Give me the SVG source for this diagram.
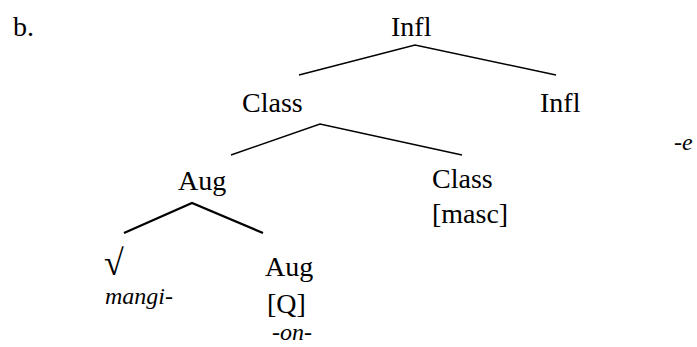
<svg xmlns="http://www.w3.org/2000/svg" width="697" height="347" viewBox="0 0 697 347" font-family="'Liberation Serif', 'DejaVu Serif', serif">
<style>
text{font-family:'Liberation Serif','DejaVu Serif',serif;font-size:28px;fill:#000}
.it{font-style:italic;font-size:24px}
.rt{font-size:36px}
.e{stroke:#000;stroke-width:1.5;fill:none}
.b{stroke-width:2.2}
</style>
<rect width="697" height="347" fill="#fff"/>
<g id="connectors">
<polyline class="e" points="299,75 415,45 556,75"/>
<polyline class="e" points="231,155 320,124 462,155"/>
<polyline class="e b" points="124,233 192,203 263,233"/>
</g>
<g id="label-b"><text x="13" y="36">b.</text></g>
<g id="infl-top"><text x="391" y="36">Infl</text></g>
<g id="class-mid"><text x="242" y="112">Class</text></g>
<g id="infl-mid"><text x="540" y="112">Infl</text><text class="it" x="674" y="150">-e</text></g>
<g id="aug-mid"><text x="178" y="190">Aug</text></g>
<g id="class-low"><text x="432" y="188">Class</text><text x="432" y="223">[masc]</text></g>
<g id="root"><text class="rt" x="104" y="275">√</text><text class="it" x="105" y="304">mangi-</text></g>
<g id="aug-low"><text x="265" y="276">Aug</text><text x="267" y="313">[Q]</text><text class="it" x="272" y="340">-on-</text></g>
</svg>
